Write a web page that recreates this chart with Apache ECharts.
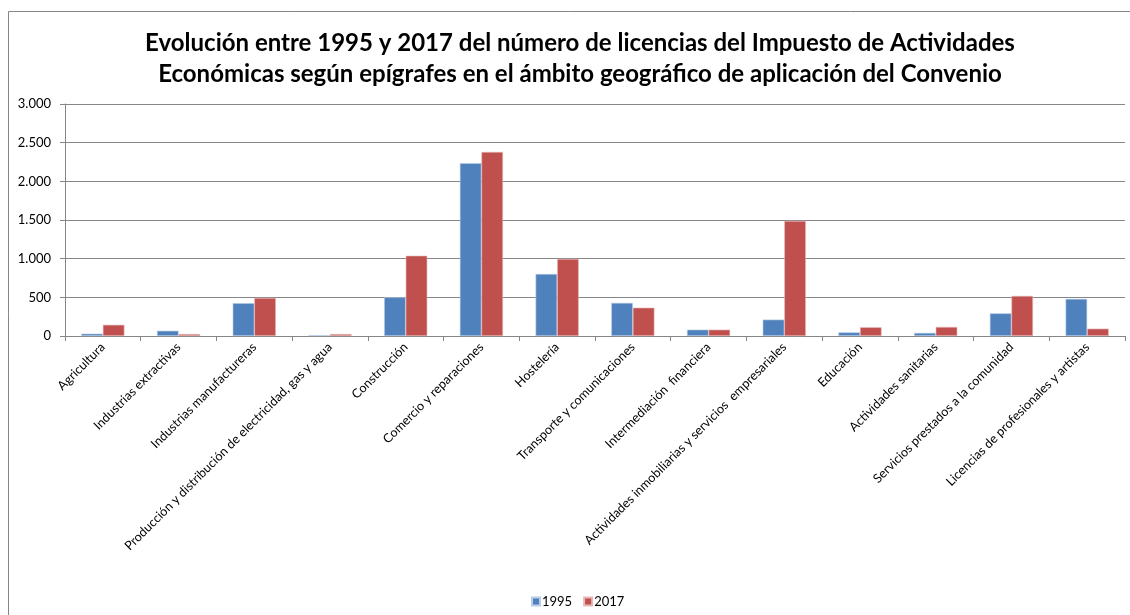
<!DOCTYPE html>
<html>
<head>
<meta charset="utf-8">
<script src="https://cdn.jsdelivr.net/npm/echarts@6/dist/echarts.min.js"></script>
<style>html,body{margin:0;padding:0;background:#fff;}#c{width:1130px;height:615px;}</style>
</head>
<body>
<div id="c"></div>
<script>
const titleLines = [
  "Evolución entre 1995 y 2017 del número de licencias del Impuesto de Actividades",
  "Económicas según epígrafes en el ámbito geográfico de aplicación del Convenio"
];
const categories = [
  "Agricultura",
  "Industrias extractivas",
  "Industrias manufactureras",
  "Producción y distribución de electricidad, gas y agua",
  "Construcción",
  "Comercio y reparaciones",
  "Hostelería",
  "Transporte y comunicaciones",
  "Intermediación  financiera",
  "Actividades inmobiliarias y servicios  empresariales",
  "Educación",
  "Actividades sanitarias",
  "Servicios prestados a la comunidad",
  "Licencias de profesionales y artistas"
];
const seriesNames = ["1995", "2017"];
const values1995 = [30, 68, 425, 10, 500, 2235, 802, 428, 82, 212, 47, 40, 293, 480];
const values2017 = [145, 25, 492, 25, 1038, 2380, 996, 366, 82, 1488, 113, 117, 518, 95];
const yMin = 0, yMax = 3000, yStep = 500;

const chart = echarts.init(document.getElementById('c'), null, {renderer: 'canvas'});
const fmt = v => String(v).replace(/\B(?=(\d{3})+(?!\d))/g, '.');
chart.setOption({
  animation: false,
  backgroundColor: '#fff',
  textStyle: {fontFamily: 'Lato, "Open Sans", sans-serif'},
  title: {
    text: titleLines.join('\n'),
    left: 575,
    textAlign: 'center',
    top: 23,
    textStyle: {fontFamily: 'Lato, sans-serif', fontWeight: 'bold', fontSize: 24, lineHeight: 31, color: '#000'}
  },
  graphic: [{
    type: 'rect', shape: {x: 8.5, y: 11.5, width: 1130, height: 620},
    style: {fill: 'none', stroke: '#868686', lineWidth: 1}, silent: true
  }],
  legend: {
    data: seriesNames,
    bottom: 7,
    left: 531,
    padding: 0,
    itemWidth: 8, itemHeight: 8, itemGap: 11,
    icon: 'rect',
    textStyle: {fontSize: 13, color: '#000', padding: [0, 0, 0, -3]}
  },
  grid: {left: 65, right: 5, top: 104, bottom: 279, containLabel: false},
  xAxis: {
    type: 'category',
    data: categories,
    axisLine: {lineStyle: {color: '#868686', width: 1}},
    axisTick: {show: true, length: 5, lineStyle: {color: '#868686'}},
    axisLabel: {rotate: 45, fontSize: 12.6, color: '#000', margin: 9, interval: 0}
  },
  yAxis: {
    type: 'value',
    min: yMin, max: yMax, interval: yStep,
    axisLine: {show: true, lineStyle: {color: '#868686'}},
    axisTick: {show: true, length: 5, lineStyle: {color: '#868686'}},
    splitLine: {lineStyle: {color: '#868686', width: 1}},
    axisLabel: {fontSize: 13, color: '#000', margin: 14, formatter: fmt}
  },
  series: [
    {name: seriesNames[0], type: 'bar', data: values1995, barGap: '0%', barCategoryGap: '43%',
     itemStyle: {color: '#4F81BD', borderColor: '#B9CDE5', borderWidth: 0.6}},
    {name: seriesNames[1], type: 'bar', data: values2017, barGap: '0%', barCategoryGap: '43%',
     itemStyle: {color: '#C0504D', borderColor: '#E6B9B8', borderWidth: 0.6}}
  ]
});
</script>
</body>
</html>
